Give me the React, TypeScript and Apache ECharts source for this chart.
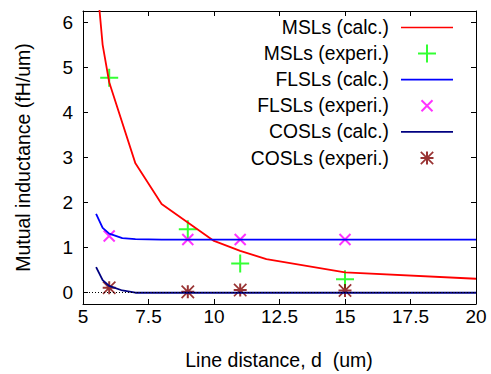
import React, { useEffect, useRef } from 'react';
import * as echarts from 'echarts';

const FONT = '"Liberation Sans", Arial, Helvetica, sans-serif';

// x: line distance d (um), y: mutual inductance (fH/um)
const mslCalcD = [5.5, 5.75, 6, 7, 8, 9, 10, 11, 12, 15, 20];
const mslCalcL = [7.1, 5.5, 4.67, 2.87, 1.97, 1.56, 1.15, 0.93, 0.745, 0.45, 0.31];
const mslExpD = [6, 9, 11, 15];
const mslExpL = [4.77, 1.41, 0.65, 0.3];
const flslCalcD = [5.5, 5.75, 6, 6.5, 7, 8, 10, 12, 15, 20];
const flslCalcL = [1.75, 1.44, 1.31, 1.21, 1.19, 1.18, 1.18, 1.18, 1.18, 1.18];
const flslExpD = [6, 9, 11, 15];
const flslExpL = [1.26, 1.18, 1.18, 1.18];
const coslCalcD = [5.5, 5.75, 6, 6.5, 7, 8, 10, 12, 15, 20];
const coslCalcL = [0.57, 0.28, 0.15, 0.05, 0.0, 0.0, 0.0, 0.0, 0.0, 0.0];
const coslExpD = [6, 9, 11, 15];
const coslExpL = [0.11, 0.02, 0.06, 0.05];

const seriesNames = [
  'MSLs (calc.)',
  'MSLs (experi.)',
  'FLSLs (calc.)',
  'FLSLs (experi.)',
  'COSLs (calc.)',
  'COSLs (experi.)',
];
const seriesColors = ['#ff0000', '#00ff00', '#0000ff', '#ff00ff', '#000080', '#800000'];

const yTicks = [0, 1, 2, 3, 4, 5, 6];

const pair = (xs: number[], ys: number[]) => xs.map((x, i) => [x, ys[i]]);

const BOX = 'M0 0L0 0M18 18L18 18';
const PLUS = 'path://' + BOX + 'M8 0H10V8H18V10H10V18H8V10H0V8H8Z';
const CROSS =
  'path://' + BOX +
  'M4.2 2.8L15.2 13.8L13.8 15.2L2.8 4.2Z' +
  'M15.2 4.2L4.2 15.2L2.8 13.8L13.8 2.8Z';
const STAR =
  'path://' + BOX +
  'M8 2.5H10V8H15.5V10H10V15.5H8V10H2.5V8H8Z' +
  'M3.4 2.2L15.8 14.6L14.6 15.8L2.2 3.4Z' +
  'M15.8 3.4L3.4 15.8L2.2 14.6L14.6 2.2Z';
const LINEICON = 'path://M0 0H52V1.7H0Z';

export default function App() {
  const ref = useRef<HTMLDivElement>(null);
  useEffect(() => {
    if (!ref.current) return;
    const chart = echarts.init(ref.current, undefined, { renderer: 'svg' });
    const axisCommon = {
      axisLine: { show: true, onZero: false, lineStyle: { color: '#000', width: 1 } },
      splitLine: { show: false },
    };
    const lineSeries = (name: string, color: string, data: number[][], extra: any = {}) => ({
      type: 'line',
      name,
      data,
      showSymbol: false,
      symbol: 'none',
      color,
      lineStyle: { color, width: 1.8 },
      ...extra,
    });
    const scatterSeries = (name: string, color: string, data: number[][], symbol: string) => ({
      type: 'scatter',
      name,
      data,
      symbol,
      symbolSize: 18,
      symbolKeepAspect: true,
      color,
      itemStyle: { color, borderWidth: 0 },
    });
    const icons = [LINEICON, PLUS, LINEICON, CROSS, LINEICON, STAR];
    chart.setOption({
      animation: false,
      grid: { left: 83, right: 15, top: 11, bottom: 70 },
      xAxis: [
        {
          type: 'value',
          min: 5,
          max: 20,
          interval: 2.5,
          position: 'bottom',
          ...axisCommon,
          axisTick: { show: true, inside: true, length: 5, lineStyle: { color: '#000' } },
          axisLabel: { color: '#000', fontSize: 19, fontFamily: FONT, margin: 3 },
        },
        {
          type: 'value',
          min: 5,
          max: 20,
          interval: 2.5,
          position: 'top',
          ...axisCommon,
          axisTick: { show: true, inside: true, length: 5, lineStyle: { color: '#000' } },
          axisLabel: { show: false },
        },
      ],
      yAxis: [
        {
          type: 'value',
          min: -0.25,
          max: 6.25,
          position: 'left',
          ...axisCommon,
          axisTick: { show: true, inside: true, length: 5, customValues: yTicks, lineStyle: { color: '#000' } },
          axisLabel: { color: '#000', fontSize: 19, fontFamily: FONT, margin: 10, customValues: yTicks },
        },
        {
          type: 'value',
          min: -0.25,
          max: 6.25,
          position: 'right',
          ...axisCommon,
          axisTick: { show: true, inside: true, length: 5, customValues: yTicks, lineStyle: { color: '#000' } },
          axisLabel: { show: false, customValues: yTicks },
        },
      ],
      legend: {
        orient: 'vertical',
        right: 38,
        top: 18,
        align: 'right',
        itemWidth: 52,
        itemHeight: 18,
        itemGap: 7.1,
        padding: 0,
        selectedMode: false,
        symbolKeepAspect: true,
        itemStyle: { borderWidth: 0 },
        textStyle: {
          fontSize: 19.3,
          fontFamily: FONT,
          color: '#000',
          lineHeight: 9,
          padding: [0, 7, 9, 0],
        },
        data: seriesNames.map((n, i) => ({
          name: n,
          icon: icons[i],
          itemStyle: { color: seriesColors[i], borderWidth: 0 },
        })),
      },
      graphic: [
        {
          type: 'text',
          x: 23,
          y: 157.5,
          rotation: Math.PI / 2,
          style: {
            text: 'Mutual inductance (fH/um)',
            fontSize: 19.5,
            fontFamily: FONT,
            fill: '#000',
            align: 'center',
            verticalAlign: 'middle',
          },
        },
        {
          type: 'text',
          x: 279,
          y: 360,
          style: {
            text: 'Line distance, d  (um)',
            fontSize: 19.5,
            fontFamily: FONT,
            fill: '#000',
            align: 'center',
            verticalAlign: 'middle',
          },
        },
      ],
      series: [
        lineSeries(seriesNames[0], seriesColors[0], pair(mslCalcD, mslCalcL), {
          markLine: {
            silent: true,
            symbol: 'none',
            label: { show: false },
            lineStyle: { color: '#000', width: 1, type: [1, 2] },
            data: [{ yAxis: 0 }],
          },
        }),
        scatterSeries(seriesNames[1], seriesColors[1], pair(mslExpD, mslExpL), PLUS),
        lineSeries(seriesNames[2], seriesColors[2], pair(flslCalcD, flslCalcL)),
        scatterSeries(seriesNames[3], seriesColors[3], pair(flslExpD, flslExpL), CROSS),
        lineSeries(seriesNames[4], seriesColors[4], pair(coslCalcD, coslCalcL)),
        scatterSeries(seriesNames[5], seriesColors[5], pair(coslExpD, coslExpL), STAR),
      ],
    });
    return () => chart.dispose();
  }, []);
  return (
    <div
      ref={ref}
      style={{ position: 'fixed', left: 0, top: 0, width: 491, height: 374, background: '#fff' }}
    />
  );
}
